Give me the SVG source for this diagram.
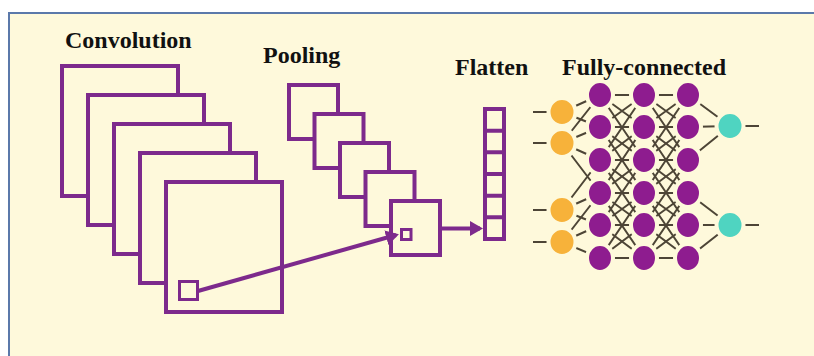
<svg xmlns="http://www.w3.org/2000/svg" width="814" height="356" viewBox="0 0 814 356">
  <style>
    .title { font-family: "Liberation Serif", "Times New Roman", serif; font-weight: bold; font-size: 24px; fill: #111; }
    .map { fill: #FEF9DB; stroke: #7D2A8C; stroke-width: 4; }
    .cell { fill: #FEF9DB; stroke: #7D2A8C; stroke-width: 3; }
    .flow { fill: none; stroke: #7D2A8C; stroke-width: 4; }
    .edge { stroke: #4D4536; stroke-width: 2; fill: none; }
    .in { fill: #F7B23A; stroke: #FEF9DB; stroke-width: 4; }
    .hid { fill: #8E1C8F; stroke: #FEF9DB; stroke-width: 4; }
    .out { fill: #4FD4C1; stroke: #FEF9DB; stroke-width: 4; }
  </style>
  <defs>
    <marker id="head" markerUnits="userSpaceOnUse" markerWidth="14" markerHeight="15" refX="10" refY="7.5" orient="auto">
      <path d="M0,0 L13,7.5 L0,15 z" fill="#7D2A8C"/>
    </marker>
  </defs>

  <!-- panel background and frame -->
  <rect x="0" y="0" width="814" height="356" fill="#FFFFFF"/>
  <rect x="9" y="13" width="805" height="343" fill="#FEF9DB"/>
  <line x1="8" y1="13" x2="814" y2="13" stroke="#5B79AA" stroke-width="2"/>
  <line x1="9" y1="12" x2="9" y2="356" stroke="#5B79AA" stroke-width="2"/>

  <!-- titles -->
  <text class="title" x="65" y="48">Convolution</text>
  <text class="title" x="263" y="63">Pooling</text>
  <text class="title" x="455" y="75">Flatten</text>
  <text class="title" x="562" y="75">Fully-connected</text>

  <!-- convolution feature maps -->
  <g id="convolution">
    <rect class="map" x="62" y="66" width="116" height="130"/>
    <rect class="map" x="88" y="95" width="116" height="130"/>
    <rect class="map" x="114" y="124" width="116" height="130"/>
    <rect class="map" x="140" y="153" width="116" height="130"/>
    <rect class="map" x="166" y="182" width="116" height="130"/>
    <rect class="cell" x="179.5" y="281.5" width="18" height="18"/>
  </g>

  <!-- pooled feature maps -->
  <g id="pooling">
    <rect class="map" x="289" y="85" width="49" height="54"/>
    <rect class="map" x="314.5" y="114" width="49" height="54"/>
    <rect class="map" x="340" y="143" width="49" height="54"/>
    <rect class="map" x="365.5" y="172" width="49" height="54"/>
    <rect class="map" x="391" y="201" width="49" height="54"/>
    <rect class="cell" x="401.5" y="229.5" width="9.5" height="10"/>
  </g>

  <!-- flattened vector -->
  <g id="flatten">
    <rect class="map" x="485" y="109" width="19" height="130"/>
    <path class="flow" d="M485,130.7 H504 M485,152.3 H504 M485,174 H504 M485,195.7 H504 M485,217.3 H504"/>
  </g>

  <!-- arrows between stages -->
  <g id="connectors">
    <line class="flow" x1="198" y1="291" x2="396" y2="235" marker-end="url(#head)"/>
    <line class="flow" x1="440" y1="228.5" x2="480" y2="228.5" marker-end="url(#head)"/>
  </g>

  <!-- fully-connected network: edges -->
  <g id="fc-edges" class="edge">
    <!-- input stubs -->
    <path d="M533,112 H548 M533,143 H548 M533,210 H548 M533,242 H548"/>
    <!-- inputs to first hidden layer -->
    <path d="M562,112 L600,95 M562,112 L600,127
             M562,143 L600,95 M562,143 L600,127 M562,143 L600,160 M562,143 L600,193
             M562,210 L600,160 M562,210 L600,193 M562,210 L600,225
             M562,242 L600,193 M562,242 L600,225 M562,242 L600,258"/>
    <!-- hidden layer 1 to 2 -->
    <path d="M600,95 L644,95 M600,95 L644,127 M600,95 L644,160
             M600,127 L644,95 M600,127 L644,127 M600,127 L644,160 M600,127 L644,193
             M600,160 L644,95 M600,160 L644,127 M600,160 L644,160 M600,160 L644,193 M600,160 L644,225
             M600,193 L644,127 M600,193 L644,160 M600,193 L644,193 M600,193 L644,225 M600,193 L644,258
             M600,225 L644,160 M600,225 L644,193 M600,225 L644,225 M600,225 L644,258
             M600,258 L644,193 M600,258 L644,225 M600,258 L644,258"/>
    <!-- hidden layer 2 to 3 -->
    <path d="M644,95 L688,95 M644,95 L688,127 M644,95 L688,160
             M644,127 L688,95 M644,127 L688,127 M644,127 L688,160 M644,127 L688,193
             M644,160 L688,95 M644,160 L688,127 M644,160 L688,160 M644,160 L688,193 M644,160 L688,225
             M644,193 L688,127 M644,193 L688,160 M644,193 L688,193 M644,193 L688,225 M644,193 L688,258
             M644,225 L688,160 M644,225 L688,193 M644,225 L688,225 M644,225 L688,258
             M644,258 L688,193 M644,258 L688,225 M644,258 L688,258"/>
    <!-- last hidden layer to outputs -->
    <path d="M688,95 L730,126 M688,127 L730,126 M688,160 L730,126
             M688,193 L730,225 M688,225 L730,225 M688,258 L730,225"/>
    <!-- output stubs -->
    <path d="M744,126 H759 M744,225 H759"/>
  </g>

  <!-- fully-connected network: nodes -->
  <g id="fc-input">
    <ellipse class="in" cx="562" cy="112" rx="13.5" ry="14"/>
    <ellipse class="in" cx="562" cy="143" rx="13.5" ry="14"/>
    <ellipse class="in" cx="562" cy="210" rx="13.5" ry="14"/>
    <ellipse class="in" cx="562" cy="242" rx="13.5" ry="14"/>
  </g>
  <g id="fc-hidden-1">
    <ellipse class="hid" cx="600" cy="95" rx="13" ry="14"/>
    <ellipse class="hid" cx="600" cy="127" rx="13" ry="14"/>
    <ellipse class="hid" cx="600" cy="160" rx="13" ry="14"/>
    <ellipse class="hid" cx="600" cy="193" rx="13" ry="14"/>
    <ellipse class="hid" cx="600" cy="225" rx="13" ry="14"/>
    <ellipse class="hid" cx="600" cy="258" rx="13" ry="14"/>
  </g>
  <g id="fc-hidden-2">
    <ellipse class="hid" cx="644" cy="95" rx="13" ry="14"/>
    <ellipse class="hid" cx="644" cy="127" rx="13" ry="14"/>
    <ellipse class="hid" cx="644" cy="160" rx="13" ry="14"/>
    <ellipse class="hid" cx="644" cy="193" rx="13" ry="14"/>
    <ellipse class="hid" cx="644" cy="225" rx="13" ry="14"/>
    <ellipse class="hid" cx="644" cy="258" rx="13" ry="14"/>
  </g>
  <g id="fc-hidden-3">
    <ellipse class="hid" cx="688" cy="95" rx="13" ry="14"/>
    <ellipse class="hid" cx="688" cy="127" rx="13" ry="14"/>
    <ellipse class="hid" cx="688" cy="160" rx="13" ry="14"/>
    <ellipse class="hid" cx="688" cy="193" rx="13" ry="14"/>
    <ellipse class="hid" cx="688" cy="225" rx="13" ry="14"/>
    <ellipse class="hid" cx="688" cy="258" rx="13" ry="14"/>
  </g>
  <g id="fc-output">
    <ellipse class="out" cx="730" cy="126" rx="13.5" ry="14"/>
    <ellipse class="out" cx="730" cy="225" rx="13.5" ry="14"/>
  </g>
</svg>
